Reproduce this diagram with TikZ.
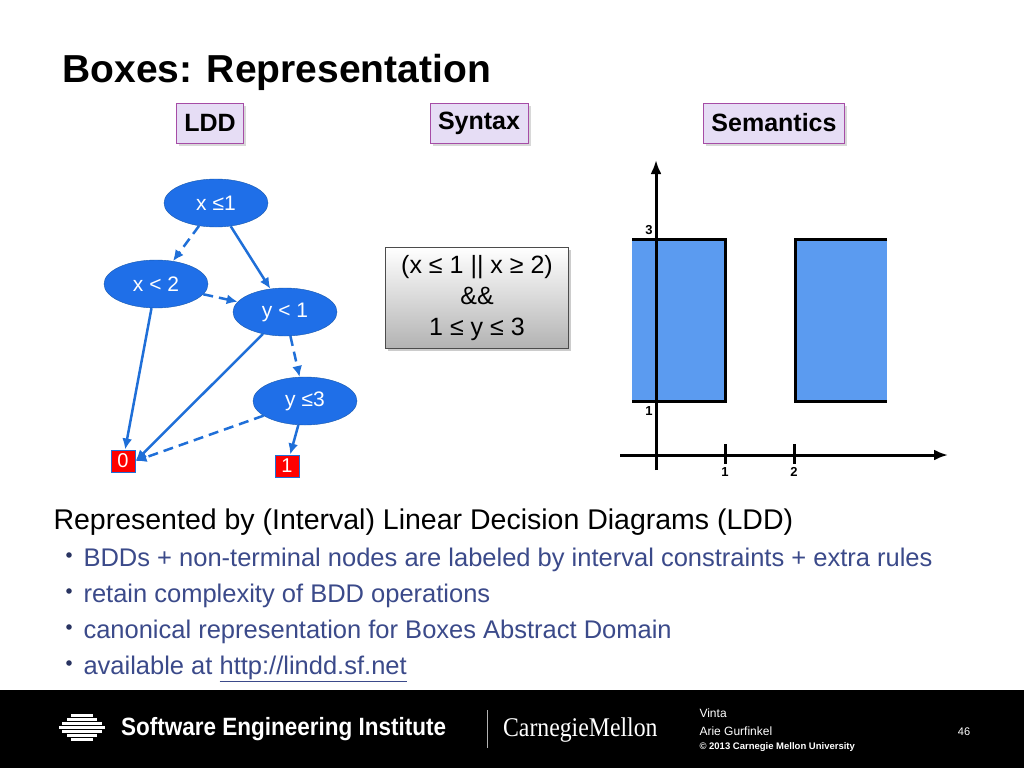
\documentclass[tikz,border=0pt]{standalone}
\usepackage{fontspec}
\setmainfont{Liberation Sans}
\usetikzlibrary{shapes.geometric,shadows,arrows.meta}
\definecolor{lddblue}{HTML}{1F6FE8}
\definecolor{edgeblue}{HTML}{1F6FD8}
\definecolor{bullet}{HTML}{3B4A8A}
\definecolor{boxblue}{HTML}{5B9BF0}
\definecolor{lavender}{HTML}{E6DDF5}
\newcommand{\fs}[1]{\fontsize{#1}{#1}\selectfont}
\tikzset{
  tab/.style={draw=violet!70,fill=lavender,font=\fs{25}\bfseries,minimum height=40pt,inner xsep=8pt,drop shadow={opacity=0.3}},
  dnode/.style={ellipse,draw=edgeblue!80!black,fill=lddblue,text=white,font=\fs{21},minimum width=104pt,minimum height=48pt,inner sep=0pt},
  term/.style={draw=edgeblue,line width=1pt,fill=red,text=white,font=\fs{20},minimum width=24pt,minimum height=22pt,inner sep=0pt},
  hi/.style={-{Latex[length=11pt,width=10pt]},edgeblue,line width=2.5pt},
  lo/.style={hi,dash pattern=on 10pt off 6pt},
  bul/.style={anchor=base west,text=bullet,font=\fs{25.5}},
  edge/.style={line width=3pt,black}
}
\begin{document}
\begin{tikzpicture}[x=1pt,y=-1pt,line cap=butt]
\useasboundingbox (0,0) rectangle (1024,768);
\fill[white] (0,0) rectangle (1024,768);

% title and tabs
\node[anchor=base west,font=\fs{39}\bfseries] (title) at (59,82) {Boxes: Representation};
\node[tab] (tldd) at (210,123) {LDD};
\node[tab] (tsyn) at (479,123) {Syntax};
\node[tab] (tsem) at (774,123) {Semantics};

% decision diagram
\node[dnode] (x1) at (216,203) {x ≤1};
\node[dnode] (x2) at (156,284) {x < 2};
\node[dnode] (y1) at (285,312) {y < 1};
\node[dnode] (y3) at (305,401) {y ≤3};
\node[term] (z) at (123,461) {0};
\node[term] (o) at (287,466) {1};
\draw[lo] (x1) -- (x2);
\draw[hi] (x1) -- (y1);
\draw[lo] (x2) -- (y1);
\draw[hi] (x2) -- (z);
\draw[hi] (y1) -- (z.east);
\draw[lo] (y1) -- (y3);
\draw[lo] (y3) -- (z.east);
\draw[hi] (y3) -- (o);

% syntax
\node[draw=black!70,top color=white,bottom color=black!30,minimum width=183pt,minimum height=101pt,
  font=\fs{25},align=center,drop shadow={opacity=0.4}] (syn) at (477,298)
  {(x ≤ 1 || x ≥ 2)\\[6pt]\&\&\\[6pt]1 ≤ y ≤ 3};

% semantics
\fill[boxblue] (632,239) rectangle (725,401);
\fill[boxblue] (795,239) rectangle (887,401);
\draw[edge] (632,239) -- (725,239) -- (725,401) -- (632,401);
\draw[edge] (887,239) -- (795,239) -- (795,401) -- (887,401);
\coordinate (ya) at (656,470);
\coordinate (yb) at (656,160);
\coordinate (xa) at (620,455);
\coordinate (xb) at (948,455);
\draw[edge,-{Latex[length=14pt,width=11pt]}] (ya) -- (yb);
\draw[edge,-{Latex[length=14pt,width=11pt]}] (xa) -- (xb);
\draw[edge] (725,444) -- (725,464);
\draw[edge] (794,444) -- (794,464);
\node[font=\fs{13}\bfseries] (l3) at (649,230) {3};
\node[font=\fs{13}\bfseries] (l1) at (649,411) {1};
\node[font=\fs{13}\bfseries] (t1) at (725,472) {1};
\node[font=\fs{13}\bfseries] (t2) at (794,472) {2};

% text
\node[anchor=base west,font=\fs{28.5}] (head) at (50,529) {Represented by (Interval) Linear Decision Diagrams (LDD)};
\foreach \t [count=\i] in {BDDs + non-terminal nodes are labeled by interval constraints + extra rules,
  retain complexity of BDD operations,
  canonical representation for Boxes Abstract Domain,
  available at \underline{http://lindd.sf.net}}{
  \node[bul] (b\i) at (80,566+36*\i-36) {\t};
  \fill[bullet!70!black] (69,555+36*\i-36) circle (2.8pt);
}

% footer
\fill[black] (0,690) rectangle (1024,768);
\foreach \w [count=\i] in {22,30,40,46,40,30,22}
  \fill[white] (82-\w/2,710+4*\i) rectangle (82+\w/2,712.5+4*\i);
\node[anchor=west,text=white,font=\fs{25}\bfseries,xscale=0.9] (sei) at (118,729) {Software Engineering Institute};
\draw[white!70!black] (487,710) -- (487,748);
\node[anchor=west,text=white,font=\fontspec{Liberation Serif}\fs{27},xscale=0.88] (cmu) at (500,730) {CarnegieMellon};
\node[anchor=base west,text=white,font=\fs{12}] (f1) at (696,717) {Vinta};
\node[anchor=base west,text=white,font=\fs{12}] (f2) at (696,735) {Arie Gurfinkel};
\node[anchor=base west,text=white,font=\fs{9.5}\bfseries] (f3) at (696,749) {© 2013 Carnegie Mellon University};
\node[text=white,font=\fs{11}] (pg) at (964,732) {46};
\end{tikzpicture}
\end{document}
